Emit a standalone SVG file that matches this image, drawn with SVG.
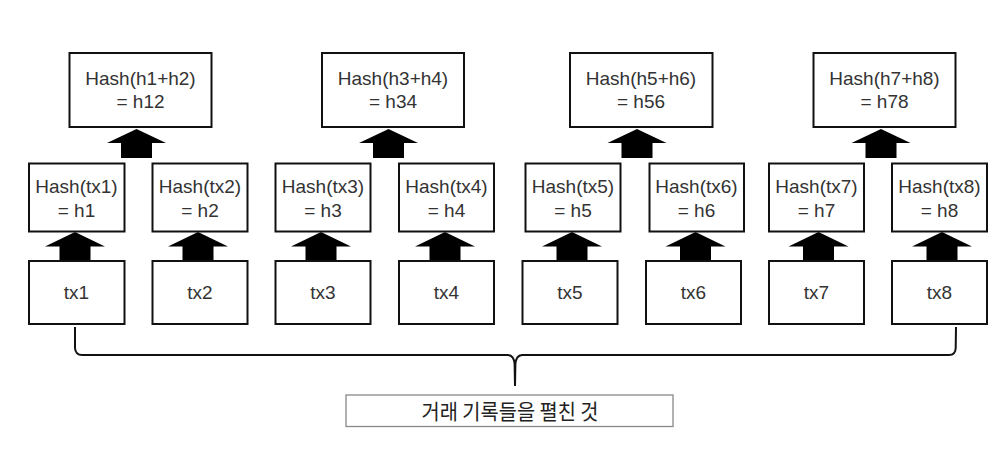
<svg xmlns="http://www.w3.org/2000/svg" width="1007" height="453" viewBox="0 0 1007 453">
<defs>
<style>
.box{fill:#fff;stroke:#111;stroke-width:2}
.lbl{fill:#fff;stroke:#888;stroke-width:1.3}
.t{font-family:"Liberation Sans","Noto Sans",Arial,sans-serif;font-size:19px;fill:#333;text-anchor:middle}
.k{font-family:"Noto Sans CJK KR","Noto Sans",sans-serif;font-size:21px;fill:#222;text-anchor:middle}
.arr{fill:#000}
.br{fill:none;stroke:#111;stroke-width:2}
</style>
<path id="a1" class="arr" d="M0,0 L30,14.5 L15.5,14.5 L15.5,29 L-15.5,29 L-15.5,14.5 L-30,14.5 Z"/>
<path id="a2" class="arr" d="M0,0 L29.5,14 L15.5,14 L15.5,29 L-15.5,29 L-15.5,14 L-29.5,14 Z"/>
</defs>
<rect width="1007" height="453" fill="#fff"/>

<g id="connectors">
<use href="#a2" x="136.5" y="129"/>
<use href="#a2" x="388.5" y="129"/>
<use href="#a2" x="637" y="129"/>
<use href="#a2" x="881" y="129"/>
<use href="#a1" x="75" y="232"/>
<use href="#a1" x="198" y="232"/>
<use href="#a1" x="321" y="232"/>
<use href="#a1" x="445" y="232"/>
<use href="#a1" x="572" y="232"/>
<use href="#a1" x="695.5" y="232"/>
<use href="#a1" x="818.5" y="232"/>
<use href="#a1" x="942" y="232"/>
<path class="br" d="M75,327 L75,348 Q75.5,355 82,355 L508,355 Q514,355.5 514.6,364 L515,386 L515.4,364 Q516,355.5 522,355 L949,355 Q955.5,355 955.7,348 L956,327"/>
</g>

<g id="h12"><rect class="box" x="69.5" y="53" width="142" height="74"/><text class="t" x="140.5" y="85">Hash(h1+h2)</text><text class="t" x="140.5" y="108">= h12</text></g>
<g id="h34"><rect class="box" x="322" y="53" width="142" height="74"/><text class="t" x="393" y="85">Hash(h3+h4)</text><text class="t" x="393" y="108">= h34</text></g>
<g id="h56"><rect class="box" x="570" y="53" width="142.5" height="74"/><text class="t" x="641" y="85">Hash(h5+h6)</text><text class="t" x="641" y="108">= h56</text></g>
<g id="h78"><rect class="box" x="813.5" y="53" width="142" height="74"/><text class="t" x="884.5" y="85">Hash(h7+h8)</text><text class="t" x="884.5" y="108">= h78</text></g>

<g id="h1"><rect class="box" x="29" y="163.5" width="95.5" height="68"/><text class="t" x="76.5" y="193">Hash(tx1)</text><text class="t" x="76.5" y="216.5">= h1</text></g>
<g id="h2"><rect class="box" x="152.5" y="163.5" width="95" height="68"/><text class="t" x="200" y="193">Hash(tx2)</text><text class="t" x="200" y="216.5">= h2</text></g>
<g id="h3"><rect class="box" x="275.5" y="163.5" width="95" height="68"/><text class="t" x="323" y="193">Hash(tx3)</text><text class="t" x="323" y="216.5">= h3</text></g>
<g id="h4"><rect class="box" x="399" y="163.5" width="95" height="68"/><text class="t" x="446.5" y="193">Hash(tx4)</text><text class="t" x="446.5" y="216.5">= h4</text></g>
<g id="h5"><rect class="box" x="525.5" y="163.5" width="95" height="68"/><text class="t" x="573" y="193">Hash(tx5)</text><text class="t" x="573" y="216.5">= h5</text></g>
<g id="h6"><rect class="box" x="649.5" y="163.5" width="94.5" height="68"/><text class="t" x="696.5" y="193">Hash(tx6)</text><text class="t" x="696.5" y="216.5">= h6</text></g>
<g id="h7"><rect class="box" x="769" y="163.5" width="95" height="68"/><text class="t" x="816.5" y="193">Hash(tx7)</text><text class="t" x="816.5" y="216.5">= h7</text></g>
<g id="h8"><rect class="box" x="892" y="163.5" width="95" height="68"/><text class="t" x="939.5" y="193">Hash(tx8)</text><text class="t" x="939.5" y="216.5">= h8</text></g>

<g id="tx1"><rect class="box" x="29" y="261" width="95.5" height="63"/><text class="t" x="76.5" y="298.5">tx1</text></g>
<g id="tx2"><rect class="box" x="152.5" y="261" width="95" height="63"/><text class="t" x="200" y="298.5">tx2</text></g>
<g id="tx3"><rect class="box" x="275.5" y="261" width="95" height="63"/><text class="t" x="323" y="298.5">tx3</text></g>
<g id="tx4"><rect class="box" x="399" y="261" width="95" height="63"/><text class="t" x="446.5" y="298.5">tx4</text></g>
<g id="tx5"><rect class="box" x="522.5" y="261" width="95" height="63"/><text class="t" x="570" y="298.5">tx5</text></g>
<g id="tx6"><rect class="box" x="646" y="261" width="95" height="63"/><text class="t" x="693.5" y="298.5">tx6</text></g>
<g id="tx7"><rect class="box" x="769" y="261" width="95" height="63"/><text class="t" x="816.5" y="298.5">tx7</text></g>
<g id="tx8"><rect class="box" x="892" y="261" width="95" height="63"/><text class="t" x="939.5" y="298.5">tx8</text></g>

<g id="label"><rect class="lbl" x="346" y="395" width="327" height="31.5"/><text class="k" x="510" y="418.5" textLength="177" lengthAdjust="spacingAndGlyphs">거래 기록들을 펼친 것</text></g>
</svg>
